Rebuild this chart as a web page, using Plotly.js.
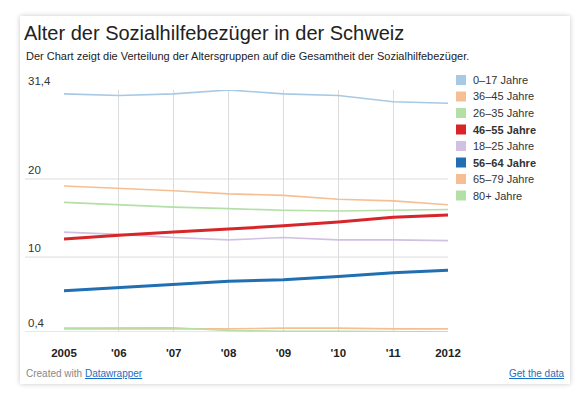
<!DOCTYPE html>
<html>
<head>
<meta charset="utf-8">
<script src="https://cdn.plot.ly/plotly-3.0.1.min.js"></script>
<style>
  html, body { margin: 0; padding: 0; background: #ffffff; }
  #card { position: absolute; left: 20px; top: 16px; width: 550px; height: 368px; background: #fff;
          box-shadow: 0 0 5px rgba(0,0,0,0.22); }
  #chart { position: absolute; left: 0; top: 0; width: 582px; height: 395px; }
</style>
</head>
<body>
<div id="card"></div>
<div id="chart"></div>
<script>
// ---- data ----
const years = [2005, 2006, 2007, 2008, 2009, 2010, 2011, 2012];
const yearLabels = ['2005', "'06", "'07", "'08", "'09", "'10", "'11", '2012'];
const seriesNames = ['0–17 Jahre', '36–45 Jahre', '26–35 Jahre', '46–55 Jahre', '18–25 Jahre', '56–64 Jahre', '65–79 Jahre', '80+ Jahre'];
const age0_17  = [30.9, 30.7, 30.9, 31.4, 30.9, 30.7, 29.9, 29.7];
const age36_45 = [19.1, 18.8, 18.5, 18.1, 17.9, 17.4, 17.2, 16.7];
const age26_35 = [17.0, 16.7, 16.4, 16.2, 16.0, 15.9, 16.0, 16.1];
const age46_55 = [12.3, 12.8, 13.2, 13.6, 14.0, 14.5, 15.1, 15.4];
const age18_25 = [13.2, 12.9, 12.5, 12.2, 12.5, 12.2, 12.2, 12.1];
const age56_64 = [5.7, 6.1, 6.5, 6.9, 7.1, 7.5, 8.0, 8.3];
const age65_79 = [0.8, 0.8, 0.85, 0.8, 0.9, 0.9, 0.8, 0.8];
const age80plus = [0.9, 0.9, 0.95, 0.6, 0.5, 0.5, 0.45, 0.4];
const yTickVals = [0.4, 10, 20, 31.4];
const yTickLabels = ['0,4', '10', '20', '31,4'];

// ---- styles ----
const seriesValues = [age0_17, age36_45, age26_35, age46_55, age18_25, age56_64, age65_79, age80plus];
const colors = ['#a6c9e6', '#f6bf93', '#b4dfa6', '#d7252a', '#d2c0e2', '#1f6fb2', '#f6bf93', '#b4dfa6'];
const highlighted = [false, false, false, true, false, true, false, false];
const drawOrder = [0, 1, 2, 4, 6, 7, 3, 5];

const traces = drawOrder.map(i => ({
  type: 'scatter', mode: 'lines', x: years, y: seriesValues[i], name: seriesNames[i],
  line: { color: colors[i], width: highlighted[i] ? 3 : 1.6 },
  hoverinfo: 'skip', showlegend: false
}));

const L = 64, R = 448, T = 90, B = 332, W = 582, H = 395;
const pw = R - L, ph = B - T;
const px = v => (v - L) / pw;           // pixel x -> paper x
const py = v => (B - v) / ph;           // pixel y -> paper y

const shapes = [];
const annotations = [];

// horizontal gridlines extended to the left
yTickVals.forEach((v, k) => {
  if (k < yTickVals.length - 1) {
    shapes.push({ type: 'line', xref: 'paper', yref: 'y', x0: px(25), x1: 1, y0: v, y1: v,
      line: { color: k === 0 ? '#cfcfcf' : '#dcdcdc', width: 1 }, layer: 'below' });
  }
  annotations.push({ xref: 'paper', yref: 'y', x: px(26), y: v, text: yTickLabels[k],
    xanchor: 'left', yanchor: 'bottom', yshift: 1, showarrow: false,
    font: { family: 'Liberation Sans, Arial, sans-serif', size: 11.5, color: '#333' } });
});

// legend
const legTop = 80, legStep = 16.5;
seriesNames.forEach((n, i) => {
  const cy = legTop + i * legStep;
  shapes.push({ type: 'rect', xref: 'paper', yref: 'paper', x0: px(456), x1: px(466),
    y0: py(cy - 5), y1: py(cy + 5), fillcolor: colors[i], line: { width: 0 } });
  annotations.push({ xref: 'paper', yref: 'paper', x: px(471), y: py(cy), text: highlighted[i] ? '<b>' + n + '</b>' : n,
    xanchor: 'left', yanchor: 'middle', showarrow: false,
    font: { family: 'Liberation Sans, Arial, sans-serif', size: 11, color: '#333' } });
});

// subtitle & footer
annotations.push({ xref: 'paper', yref: 'paper', x: px(24), y: py(56), text: 'Der Chart zeigt die Verteilung der Altersgruppen auf die Gesamtheit der Sozialhilfebezüger.',
  xanchor: 'left', yanchor: 'middle', showarrow: false,
  font: { family: 'Liberation Sans, Arial, sans-serif', size: 11, color: '#222' } });
annotations.push({ xref: 'paper', yref: 'paper', x: px(24), y: py(373),
  text: 'Created with <span style="text-decoration:underline;fill:#1a6fc4">Datawrapper</span>',
  xanchor: 'left', yanchor: 'middle', showarrow: false,
  font: { family: 'Liberation Sans, Arial, sans-serif', size: 10, color: '#888' } });
annotations.push({ xref: 'paper', yref: 'paper', x: px(566), y: py(373),
  text: '<span style="text-decoration:underline">Get the data</span>',
  xanchor: 'right', yanchor: 'middle', showarrow: false,
  font: { family: 'Liberation Sans, Arial, sans-serif', size: 10, color: '#1a6fc4' } });

const layout = {
  width: W, height: H,
  margin: { l: L, r: W - R, t: T, b: H - B, pad: 0 },
  paper_bgcolor: 'rgba(0,0,0,0)', plot_bgcolor: 'rgba(0,0,0,0)',
  title: { text: 'Alter der Sozialhilfebezüger in der Schweiz', xref: 'container', yref: 'container',
    x: 24 / W, xanchor: 'left', y: 1 - 33 / H, yanchor: 'middle',
    font: { family: 'Liberation Sans, Arial, sans-serif', size: 20, color: '#222' } },
  xaxis: { range: [2005, 2012], tickvals: years, ticktext: yearLabels, showgrid: true,
    gridcolor: '#dcdcdc', gridwidth: 1, zeroline: false, showline: false,
    ticks: 'outside', ticklen: 10, tickcolor: 'rgba(0,0,0,0)',
    tickfont: { family: 'Liberation Sans, Arial, sans-serif', size: 11.5, color: '#222', weight: 'bold' },
    fixedrange: true },
  yaxis: { range: [0.4, 31.4], showgrid: false, zeroline: false, showline: false,
    showticklabels: false, ticks: '', fixedrange: true },
  shapes: shapes, annotations: annotations, showlegend: false
};

Plotly.newPlot('chart', traces, layout, { displayModeBar: false, staticPlot: true });
</script>
</body>
</html>
